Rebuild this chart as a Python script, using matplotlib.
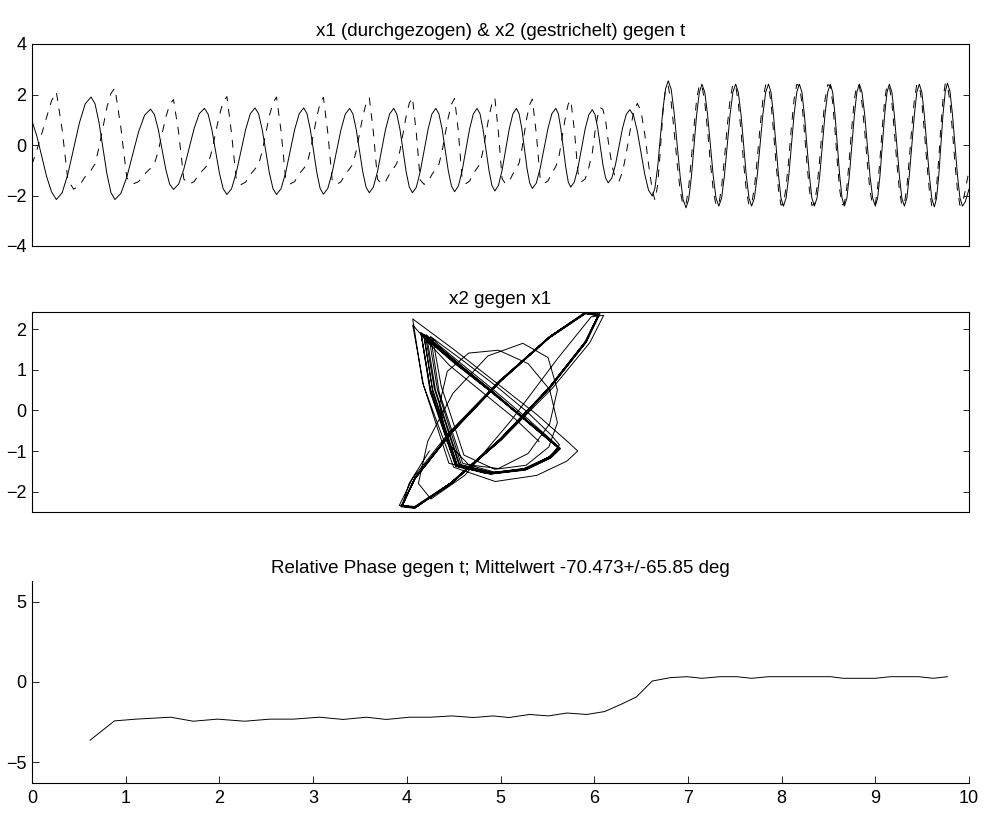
"""
x1/x2 Zeitverlauf, Phasenportrait und relative Phase (MATLAB-Stil, drei Subplots)
"""

import matplotlib
matplotlib.use("Agg")
import matplotlib.pyplot as plt

plt.rcParams["font.family"] = ["Liberation Sans", "DejaVu Sans"]

# Zeitachse der Signale [s]
t_sig = [
    0.000, 0.052, 0.104, 0.156, 0.208, 0.260,
    0.322, 0.383, 0.445, 0.507, 0.568, 0.630,
    0.673, 0.715, 0.758, 0.800, 0.843, 0.885,
    0.948, 1.012, 1.075, 1.138, 1.202, 1.265,
    1.306, 1.347, 1.388, 1.428, 1.469, 1.510,
    1.565, 1.620, 1.675, 1.730, 1.785, 1.840,
    1.880, 1.920, 1.960, 2.000, 2.040, 2.080,
    2.130, 2.180, 2.230, 2.280, 2.330, 2.380,
    2.418, 2.457, 2.495, 2.533, 2.572, 2.610,
    2.658, 2.707, 2.755, 2.803, 2.852, 2.900,
    2.935, 2.970, 3.005, 3.040, 3.075, 3.110,
    3.157, 3.203, 3.250, 3.297, 3.343, 3.390,
    3.425, 3.460, 3.495, 3.530, 3.565, 3.600,
    3.643, 3.687, 3.730, 3.773, 3.817, 3.860,
    3.893, 3.927, 3.960, 3.993, 4.027, 4.060,
    4.102, 4.143, 4.185, 4.227, 4.268, 4.310,
    4.343, 4.377, 4.410, 4.443, 4.477, 4.510,
    4.550, 4.590, 4.630, 4.670, 4.710, 4.750,
    4.782, 4.813, 4.845, 4.877, 4.908, 4.940,
    4.978, 5.017, 5.055, 5.093, 5.132, 5.170,
    5.198, 5.227, 5.255, 5.283, 5.312, 5.340,
    5.382, 5.423, 5.465, 5.507, 5.548, 5.590,
    5.617, 5.643, 5.670, 5.697, 5.723, 5.750,
    5.788, 5.827, 5.865, 5.903, 5.942, 5.980,
    6.008, 6.037, 6.065, 6.093, 6.122, 6.150,
    6.188, 6.227, 6.265, 6.303, 6.342, 6.380,
    6.420, 6.460, 6.500, 6.540, 6.580, 6.620,
    6.648, 6.677, 6.705, 6.733, 6.762, 6.790,
    6.822, 6.853, 6.885, 6.917, 6.948, 6.980,
    7.008, 7.037, 7.065, 7.093, 7.122, 7.150,
    7.180, 7.210, 7.240, 7.270, 7.300, 7.330,
    7.360, 7.390, 7.420, 7.450, 7.480, 7.510,
    7.538, 7.567, 7.595, 7.623, 7.652, 7.680,
    7.710, 7.740, 7.770, 7.800, 7.830, 7.860,
    7.887, 7.913, 7.940, 7.967, 7.993, 8.020,
    8.048, 8.077, 8.105, 8.133, 8.162, 8.190,
    8.217, 8.243, 8.270, 8.297, 8.323, 8.350,
    8.378, 8.407, 8.435, 8.463, 8.492, 8.520,
    8.545, 8.570, 8.595, 8.620, 8.645, 8.670,
    8.697, 8.723, 8.750, 8.777, 8.803, 8.830,
    8.858, 8.887, 8.915, 8.943, 8.972, 9.000,
    9.025, 9.050, 9.075, 9.100, 9.125, 9.150,
    9.177, 9.203, 9.230, 9.257, 9.283, 9.310,
    9.337, 9.363, 9.390, 9.417, 9.443, 9.470,
    9.497, 9.523, 9.550, 9.577, 9.603, 9.630,
    9.653, 9.677, 9.700, 9.723, 9.747, 9.770,
    9.797, 9.823, 9.850, 9.877, 9.903, 9.930,
    9.960, 10.000,
]

# x1 (durchgezogen)
x1 = [
    0.95, 0.35, -0.45, -1.25, -1.85, -2.16,
    -1.89, -1.15, -0.13, 0.89, 1.63, 1.90,
    1.63, 0.89, -0.13, -1.15, -1.89, -2.16,
    -1.92, -1.27, -0.37, 0.53, 1.18, 1.42,
    1.21, 0.63, -0.17, -0.97, -1.55, -1.76,
    -1.55, -0.96, -0.16, 0.65, 1.24, 1.45,
    1.22, 0.60, -0.26, -1.11, -1.73, -1.96,
    -1.73, -1.10, -0.25, 0.61, 1.24, 1.47,
    1.24, 0.61, -0.25, -1.10, -1.73, -1.96,
    -1.73, -1.10, -0.25, 0.61, 1.24, 1.47,
    1.24, 0.62, -0.24, -1.10, -1.72, -1.95,
    -1.72, -1.10, -0.25, 0.60, 1.22, 1.45,
    1.23, 0.62, -0.22, -1.06, -1.67, -1.89,
    -1.67, -1.06, -0.22, 0.62, 1.23, 1.45,
    1.23, 0.62, -0.22, -1.06, -1.67, -1.89,
    -1.67, -1.06, -0.22, 0.62, 1.23, 1.45,
    1.23, 0.63, -0.20, -1.03, -1.63, -1.85,
    -1.63, -1.03, -0.20, 0.63, 1.23, 1.45,
    1.23, 0.63, -0.19, -1.00, -1.60, -1.82,
    -1.60, -1.00, -0.19, 0.63, 1.23, 1.45,
    1.24, 0.66, -0.14, -0.93, -1.51, -1.72,
    -1.51, -0.93, -0.14, 0.66, 1.24, 1.45,
    1.24, 0.67, -0.11, -0.89, -1.46, -1.67,
    -1.46, -0.90, -0.14, 0.63, 1.19, 1.40,
    1.21, 0.68, -0.05, -0.78, -1.31, -1.50,
    -1.31, -0.78, -0.05, 0.68, 1.21, 1.40,
    1.17, 0.55, -0.31, -1.17, -1.79, -2.02,
    -1.71, -0.88, 0.26, 1.40, 2.23, 2.54,
    2.20, 1.28, 0.03, -1.23, -2.15, -2.49,
    -2.16, -1.27, -0.04, 1.19, 2.08, 2.41,
    2.09, 1.20, 0.00, -1.21, -2.10, -2.42,
    -2.10, -1.21, 0.00, 1.20, 2.09, 2.41,
    2.09, 1.20, 0.00, -1.21, -2.10, -2.42,
    -2.10, -1.21, 0.00, 1.20, 2.09, 2.41,
    2.09, 1.20, 0.00, -1.21, -2.10, -2.42,
    -2.10, -1.21, 0.00, 1.20, 2.09, 2.41,
    2.09, 1.20, 0.00, -1.21, -2.10, -2.42,
    -2.10, -1.21, 0.00, 1.20, 2.09, 2.41,
    2.09, 1.20, 0.00, -1.21, -2.10, -2.42,
    -2.10, -1.21, 0.00, 1.20, 2.09, 2.41,
    2.09, 1.20, 0.00, -1.21, -2.10, -2.42,
    -2.10, -1.21, 0.00, 1.20, 2.09, 2.41,
    2.09, 1.20, 0.00, -1.21, -2.10, -2.42,
    -2.10, -1.21, 0.00, 1.20, 2.09, 2.41,
    2.08, 1.20, -0.02, -1.24, -2.12, -2.45,
    -2.12, -1.23, 0.00, 1.23, 2.12, 2.45,
    2.12, 1.23, 0.02, -1.20, -2.09, -2.42,
    -2.25, -1.75,
]

# x2 (gestrichelt)
x2 = [
    -0.77, -0.20, 0.45, 1.10, 1.75, 2.10,
    0.60, -1.40, -1.75, -1.60, -1.25, -1.00,
    -0.75, -0.10, 0.70, 1.50, 2.05, 2.25,
    0.70, -1.30, -1.55, -1.45, -1.15, -0.92,
    -0.75, -0.25, 0.45, 1.10, 1.60, 1.80,
    0.50, -1.35, -1.55, -1.45, -1.15, -0.93,
    -0.76, -0.22, 0.50, 1.18, 1.70, 1.92,
    0.45, -1.38, -1.57, -1.47, -1.17, -0.95,
    -0.77, -0.25, 0.47, 1.15, 1.68, 1.90,
    0.55, -1.33, -1.54, -1.45, -1.14, -0.93,
    -0.74, -0.23, 0.46, 1.13, 1.66, 1.89,
    0.48, -1.37, -1.56, -1.46, -1.16, -0.94,
    -0.75, -0.24, 0.45, 1.12, 1.64, 1.87,
    0.52, -1.35, -1.55, -1.44, -1.15, -0.92,
    -0.73, -0.22, 0.47, 1.14, 1.66, 1.88,
    0.46, -1.38, -1.56, -1.46, -1.17, -0.95,
    -0.76, -0.25, 0.44, 1.10, 1.62, 1.85,
    0.54, -1.32, -1.53, -1.43, -1.13, -0.92,
    -0.74, -0.23, 0.46, 1.12, 1.63, 1.86,
    0.50, -1.34, -1.54, -1.44, -1.15, -0.93,
    -0.72, -0.20, 0.48, 1.12, 1.60, 1.82,
    0.45, -1.30, -1.52, -1.42, -1.12, -0.85,
    -0.60, -0.05, 0.60, 1.20, 1.62, 1.78,
    0.60, -1.10, -1.45, -1.35, -0.90, -0.30,
    0.51, 1.15, 1.48, 1.41, 0.96, 0.15,
    -0.79, -1.34, -1.43, -1.06, -0.33, 0.50,
    1.30, 1.65, 1.34, 0.42, -0.76, -1.80,
    -2.18, -1.60, -0.25, 1.27, 2.30, 2.34,
    1.67, 0.55, -0.72, -1.79, -2.39, -2.34,
    -1.67, -0.55, 0.72, 1.79, 2.39, 2.34,
    1.70, 0.57, -0.70, -1.77, -2.40, -2.36,
    -1.65, -0.53, 0.74, 1.81, 2.41, 2.36,
    1.66, 0.54, -0.73, -1.80, -2.39, -2.33,
    -1.68, -0.56, 0.71, 1.78, 2.38, 2.33,
    1.68, 0.56, -0.71, -1.78, -2.38, -2.35,
    -1.66, -0.54, 0.73, 1.80, 2.40, 2.35,
    1.67, 0.55, -0.72, -1.79, -2.39, -2.34,
    -1.67, -0.55, 0.72, 1.79, 2.39, 2.34,
    1.69, 0.57, -0.70, -1.77, -2.37, -2.33,
    -1.65, -0.53, 0.74, 1.81, 2.40, 2.35,
    1.66, 0.54, -0.73, -1.80, -2.40, -2.35,
    -1.68, -0.56, 0.71, 1.78, 2.38, 2.33,
    1.67, 0.55, -0.72, -1.79, -2.39, -2.34,
    -1.66, -0.54, 0.73, 1.80, 2.40, 2.35,
    1.68, 0.56, -0.71, -1.80, -2.41, -2.37,
    -1.69, -0.56, 0.74, 1.83, 2.44, 2.38,
    1.69, 0.56, -0.72, -1.79, -2.39, -2.34,
    -1.80, -1.00,
]

# relative Phase [rad]
t_phase = [
    0.62, 0.88, 1.11, 1.48, 1.72, 1.98, 2.27, 2.54, 2.79, 3.07,
    3.32, 3.57, 3.78, 4.03, 4.25, 4.48, 4.71, 4.92, 5.09, 5.31,
    5.51, 5.71, 5.92, 6.11, 6.29, 6.45, 6.62, 6.81, 6.99, 7.15,
    7.34, 7.52, 7.68, 7.86, 8.02, 8.19, 8.35, 8.52, 8.66, 8.83,
    9.00, 9.16, 9.31, 9.46, 9.62, 9.77,
]
phase = [
    -3.62, -2.42, -2.31, -2.19, -2.44, -2.31, -2.44, -2.31, -2.31, -2.19,
    -2.33, -2.19, -2.33, -2.19, -2.19, -2.11, -2.21, -2.11, -2.21, -2.02,
    -2.11, -1.93, -2.02, -1.84, -1.38, -0.93, 0.06, 0.27, 0.33, 0.23,
    0.33, 0.33, 0.23, 0.33, 0.33, 0.33, 0.33, 0.33, 0.23, 0.23,
    0.23, 0.33, 0.33, 0.33, 0.23, 0.33,
]

TITLE_TOP = "x1 (durchgezogen) & x2 (gestrichelt) gegen t"
TITLE_MID = "x2 gegen x1"
TITLE_BOT = "Relative Phase gegen t; Mittelwert -70.473+/-65.85 deg"

W, H = 986, 814
LW = 0.7
TICK_FS = 13
TITLE_FS = 13.5


def box_axes(ax):
    for s in ax.spines.values():
        s.set_linewidth(0.8)
        s.set_color("black")
    ax.tick_params(axis="y", direction="in", length=4, width=0.6,
                   labelsize=TICK_FS, right=True, pad=4)
    ax.set_xticks([])


fig = plt.figure(figsize=(W / 100, H / 100), dpi=100)
fig.set_facecolor("white")

# --- x1 & x2 gegen t ---
ax1 = fig.add_axes([32 / W, 1 - 246 / H, 937 / W, 202 / H])
ax1.plot(t_sig, x1, color="black", lw=LW)
ax1.plot(t_sig, x2, color="black", lw=LW, ls=(0, (8, 8)))
ax1.set_xlim(0, 10)
ax1.set_ylim(-4, 4)
ax1.set_yticks([-4, -2, 0, 2, 4])
box_axes(ax1)
ax1.set_title(TITLE_TOP, fontsize=TITLE_FS, pad=6)

# --- Phasenportrait x2 gegen x1 (gleiche Skalierung) ---
ax2 = fig.add_axes([32 / W, 1 - 512 / H, 937 / W, 200 / H])
ax2.plot(x1, x2, color="black", lw=LW)
y_lo, y_hi = -2.5, 2.42
half_w = (y_hi - y_lo) * 937 / 200 / 2
ax2.set_xlim(-half_w, half_w)
ax2.set_ylim(y_lo, y_hi)
ax2.set_yticks([-2, -1, 0, 1, 2])
box_axes(ax2)
ax2.set_title(TITLE_MID, fontsize=TITLE_FS, pad=6)

# --- relative Phase gegen t ---
ax3 = fig.add_axes([32 / W, 1 - 783 / H, 937 / W, 202 / H])
ax3.plot(t_phase, phase, color="black", lw=LW)
ax3.set_xlim(0, 10)
ax3.set_ylim(-6.2832, 6.2832)
ax3.set_xticks(range(0, 11))
ax3.set_yticks([-5, 0, 5])
ax3.spines["top"].set_visible(False)
ax3.spines["right"].set_visible(False)
for s in ("left", "bottom"):
    ax3.spines[s].set_linewidth(0.8)
ax3.tick_params(direction="in", length=5, width=0.6, labelsize=TICK_FS)
ax3.tick_params(axis="x", pad=5)
ax3.tick_params(axis="y", pad=4)
ax3.set_title(TITLE_BOT, fontsize=TITLE_FS, pad=6)

fig.savefig("out.png", dpi=100, facecolor=fig.get_facecolor())
plt.close(fig)
